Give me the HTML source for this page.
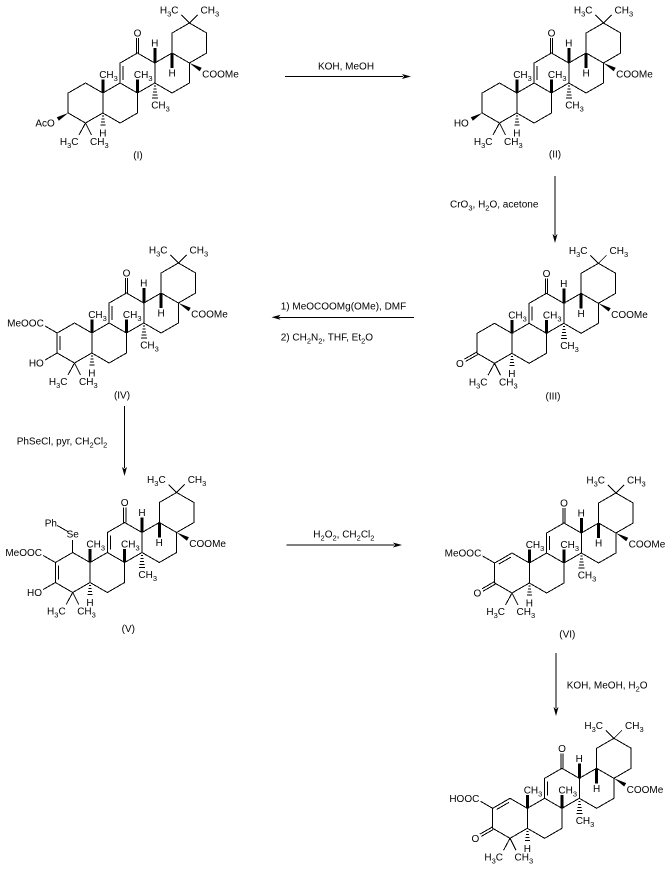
<!DOCTYPE html>
<html><head><meta charset="utf-8"><style>
html,body{margin:0;padding:0;background:#fff;}
svg{display:block;}
text{font-family:"Liberation Sans",Arial,sans-serif;font-size:10px;fill:#000;}
.s{fill:none;stroke:#000;stroke-width:1;shape-rendering:crispEdges;}
.b{fill:none;stroke:#000;stroke-width:3;shape-rendering:crispEdges;}
</style></head><body>
<svg width="672" height="870" viewBox="0 0 672 870" xmlns="http://www.w3.org/2000/svg">
<rect width="672" height="870" fill="#fff"/>

<!-- ===== Structure I ===== -->
<g transform="translate(85.5,103)">
<path class="s" d="M0,-20L-17.32,-10L-17.32,10L0,20L17.32,10L17.32,-10Z M17.32,-10L34.64,-20L51.96,-10L51.96,10L34.64,20L17.32,10 M34.64,-20L34.64,-40L51.96,-50L69.28,-40L69.28,-20L51.96,-10 M69.28,-40L86.6,-50L103.92,-40L103.92,-20L86.6,-10L69.28,-20 M86.6,-50L86.6,-70L103.92,-80L121.24,-70L121.24,-50L103.92,-40 M37.64,-37L37.64,-23 M50.76,-50L50.76,-65 M53.16,-50L53.16,-65 M0,20L-6.5,32 M0,20L6,32 M103.92,-80L96,-88 M103.92,-80L112,-88 M16.32,13L18.32,13 M15.82,16L18.82,16 M15.32,19L19.32,19 M14.82,22L19.82,22 M68.28,-17L70.28,-17 M67.78,-14L70.78,-14 M67.28,-11L71.28,-11 M66.78,-8L71.78,-8 M66.28,-5L72.28,-5"/>
<path class="b" d="M17.32,-10L17.32,-23.5 M51.96,-10L51.96,-23.5 M69.28,-40L69.28,-55 M86.6,-50L86.6,-35"/>
<polygon points="103.92,-40 114.2,-31.8 116.2,-35.2"/>
<polygon points="-17.32,10 -26.7,17.7 -28.7,14.3"/>
<text x="51.96" y="-66.4" text-anchor="middle">O</text>
<text x="69.28" y="-56.4" text-anchor="middle">H</text>
<text x="86.6" y="-26.4" text-anchor="middle">H</text>
<text x="17.32" y="33.6" text-anchor="middle">H</text>
<text x="13.7" y="-25">CH<tspan font-size="7.5" dy="3">3</tspan></text>
<text x="48.36" y="-25">CH<tspan font-size="7.5" dy="3">3</tspan></text>
<text x="65.7" y="5.5">CH<tspan font-size="7.5" dy="3">3</tspan></text>
<text x="116.6" y="-25.4">COOMe</text>
<text x="-7" y="42" text-anchor="end">H<tspan font-size="7.5" dy="3">3</tspan><tspan dy="-3">C</tspan></text>
<text x="4.5" y="42">CH<tspan font-size="7.5" dy="3">3</tspan></text>
<text x="93" y="-89.4" text-anchor="end">H<tspan font-size="7.5" dy="3">3</tspan><tspan dy="-3">C</tspan></text>
<text x="115" y="-89.4">CH<tspan font-size="7.5" dy="3">3</tspan></text>
<text x="-30.7" y="23.6" text-anchor="end">AcO</text>
</g>
<text x="138" y="158.6" text-anchor="middle">(I)</text>

<!-- ===== Structure II ===== -->
<g transform="translate(499.5,103)">
<path class="s" d="M0,-20L-17.32,-10L-17.32,10L0,20L17.32,10L17.32,-10Z M17.32,-10L34.64,-20L51.96,-10L51.96,10L34.64,20L17.32,10 M34.64,-20L34.64,-40L51.96,-50L69.28,-40L69.28,-20L51.96,-10 M69.28,-40L86.6,-50L103.92,-40L103.92,-20L86.6,-10L69.28,-20 M86.6,-50L86.6,-70L103.92,-80L121.24,-70L121.24,-50L103.92,-40 M37.64,-37L37.64,-23 M50.76,-50L50.76,-65 M53.16,-50L53.16,-65 M0,20L-6.5,32 M0,20L6,32 M103.92,-80L96,-88 M103.92,-80L112,-88 M16.32,13L18.32,13 M15.82,16L18.82,16 M15.32,19L19.32,19 M14.82,22L19.82,22 M68.28,-17L70.28,-17 M67.78,-14L70.78,-14 M67.28,-11L71.28,-11 M66.78,-8L71.78,-8 M66.28,-5L72.28,-5"/>
<path class="b" d="M17.32,-10L17.32,-23.5 M51.96,-10L51.96,-23.5 M69.28,-40L69.28,-55 M86.6,-50L86.6,-35"/>
<polygon points="103.92,-40 114.2,-31.8 116.2,-35.2"/>
<polygon points="-17.32,10 -26.7,17.7 -28.7,14.3"/>
<text x="51.96" y="-66.4" text-anchor="middle">O</text>
<text x="69.28" y="-56.4" text-anchor="middle">H</text>
<text x="86.6" y="-26.4" text-anchor="middle">H</text>
<text x="17.32" y="33.6" text-anchor="middle">H</text>
<text x="13.7" y="-25">CH<tspan font-size="7.5" dy="3">3</tspan></text>
<text x="48.36" y="-25">CH<tspan font-size="7.5" dy="3">3</tspan></text>
<text x="65.7" y="5.5">CH<tspan font-size="7.5" dy="3">3</tspan></text>
<text x="116.6" y="-25.4">COOMe</text>
<text x="-7" y="42" text-anchor="end">H<tspan font-size="7.5" dy="3">3</tspan><tspan dy="-3">C</tspan></text>
<text x="4.5" y="42">CH<tspan font-size="7.5" dy="3">3</tspan></text>
<text x="93" y="-89.4" text-anchor="end">H<tspan font-size="7.5" dy="3">3</tspan><tspan dy="-3">C</tspan></text>
<text x="115" y="-89.4">CH<tspan font-size="7.5" dy="3">3</tspan></text>
<text x="-30.7" y="23.6" text-anchor="end">HO</text>
</g>
<text x="555" y="157.6" text-anchor="middle">(II)</text>

<!-- ===== Structure III ===== -->
<g transform="translate(494.5,343.3)">
<path class="s" d="M0,-20L-17.32,-10L-17.32,10L0,20L17.32,10L17.32,-10Z M17.32,-10L34.64,-20L51.96,-10L51.96,10L34.64,20L17.32,10 M34.64,-20L34.64,-40L51.96,-50L69.28,-40L69.28,-20L51.96,-10 M69.28,-40L86.6,-50L103.92,-40L103.92,-20L86.6,-10L69.28,-20 M86.6,-50L86.6,-70L103.92,-80L121.24,-70L121.24,-50L103.92,-40 M37.64,-37L37.64,-23 M50.76,-50L50.76,-65 M53.16,-50L53.16,-65 M0,20L-6.5,32 M0,20L6,32 M103.92,-80L96,-88 M103.92,-80L112,-88 M16.32,13L18.32,13 M15.82,16L18.82,16 M15.32,19L19.32,19 M14.82,22L19.82,22 M68.28,-17L70.28,-17 M67.78,-14L70.78,-14 M67.28,-11L71.28,-11 M66.78,-8L71.78,-8 M66.28,-5L72.28,-5 M-16.67,11.13L-28.85,18.13 M-17.97,8.87L-30.15,15.87"/>
<path class="b" d="M17.32,-10L17.32,-23.5 M51.96,-10L51.96,-23.5 M69.28,-40L69.28,-55 M86.6,-50L86.6,-35"/>
<polygon points="103.92,-40 114.2,-31.8 116.2,-35.2"/>
<text x="51.96" y="-66.4" text-anchor="middle">O</text>
<text x="69.28" y="-56.4" text-anchor="middle">H</text>
<text x="86.6" y="-26.4" text-anchor="middle">H</text>
<text x="17.32" y="33.6" text-anchor="middle">H</text>
<text x="13.7" y="-25">CH<tspan font-size="7.5" dy="3">3</tspan></text>
<text x="48.36" y="-25">CH<tspan font-size="7.5" dy="3">3</tspan></text>
<text x="65.7" y="5.5">CH<tspan font-size="7.5" dy="3">3</tspan></text>
<text x="116.6" y="-25.4">COOMe</text>
<text x="-7" y="42" text-anchor="end">H<tspan font-size="7.5" dy="3">3</tspan><tspan dy="-3">C</tspan></text>
<text x="4.5" y="42">CH<tspan font-size="7.5" dy="3">3</tspan></text>
<text x="93" y="-89.4" text-anchor="end">H<tspan font-size="7.5" dy="3">3</tspan><tspan dy="-3">C</tspan></text>
<text x="115" y="-89.4">CH<tspan font-size="7.5" dy="3">3</tspan></text>
<text x="-34.64" y="23.6" text-anchor="middle">O</text>
</g>
<text x="553" y="399.6" text-anchor="middle">(III)</text>

<!-- ===== Structure IV ===== -->
<g transform="translate(74.5,343)">
<path class="s" d="M0,-20L-17.32,-10L-17.32,10L0,20L17.32,10L17.32,-10Z M17.32,-10L34.64,-20L51.96,-10L51.96,10L34.64,20L17.32,10 M34.64,-20L34.64,-40L51.96,-50L69.28,-40L69.28,-20L51.96,-10 M69.28,-40L86.6,-50L103.92,-40L103.92,-20L86.6,-10L69.28,-20 M86.6,-50L86.6,-70L103.92,-80L121.24,-70L121.24,-50L103.92,-40 M37.64,-37L37.64,-23 M50.76,-50L50.76,-65 M53.16,-50L53.16,-65 M0,20L-6.5,32 M0,20L6,32 M103.92,-80L96,-88 M103.92,-80L112,-88 M16.32,13L18.32,13 M15.82,16L18.82,16 M15.32,19L19.32,19 M14.82,22L19.82,22 M68.28,-17L70.28,-17 M67.78,-14L70.78,-14 M67.28,-11L71.28,-11 M66.78,-8L71.78,-8 M66.28,-5L72.28,-5 M-14.32,-7L-14.32,7 M-17.32,-10L-29.5,-17 M-17.32,10L-29.5,17"/>
<path class="b" d="M17.32,-10L17.32,-23.5 M51.96,-10L51.96,-23.5 M69.28,-40L69.28,-55 M86.6,-50L86.6,-35"/>
<polygon points="103.92,-40 114.2,-31.8 116.2,-35.2"/>
<text x="51.96" y="-66.4" text-anchor="middle">O</text>
<text x="69.28" y="-56.4" text-anchor="middle">H</text>
<text x="86.6" y="-26.4" text-anchor="middle">H</text>
<text x="17.32" y="33.6" text-anchor="middle">H</text>
<text x="13.7" y="-25">CH<tspan font-size="7.5" dy="3">3</tspan></text>
<text x="48.36" y="-25">CH<tspan font-size="7.5" dy="3">3</tspan></text>
<text x="65.7" y="5.5">CH<tspan font-size="7.5" dy="3">3</tspan></text>
<text x="116.6" y="-25.4">COOMe</text>
<text x="-7" y="42" text-anchor="end">H<tspan font-size="7.5" dy="3">3</tspan><tspan dy="-3">C</tspan></text>
<text x="4.5" y="42">CH<tspan font-size="7.5" dy="3">3</tspan></text>
<text x="93" y="-89.4" text-anchor="end">H<tspan font-size="7.5" dy="3">3</tspan><tspan dy="-3">C</tspan></text>
<text x="115" y="-89.4">CH<tspan font-size="7.5" dy="3">3</tspan></text>
<text x="-30.7" y="-16.4" text-anchor="end">MeOOC</text>
<text x="-30.7" y="23.6" text-anchor="end">HO</text>
</g>
<text x="122" y="398.6" text-anchor="middle">(IV)</text>

<!-- ===== Structure V ===== -->
<g transform="translate(72.7,572.5)">
<path class="s" d="M0,-20L-17.32,-10L-17.32,10L0,20L17.32,10L17.32,-10Z M17.32,-10L34.64,-20L51.96,-10L51.96,10L34.64,20L17.32,10 M34.64,-20L34.64,-40L51.96,-50L69.28,-40L69.28,-20L51.96,-10 M69.28,-40L86.6,-50L103.92,-40L103.92,-20L86.6,-10L69.28,-20 M86.6,-50L86.6,-70L103.92,-80L121.24,-70L121.24,-50L103.92,-40 M37.64,-37L37.64,-23 M50.76,-50L50.76,-65 M53.16,-50L53.16,-65 M0,20L-6.5,32 M0,20L6,32 M103.92,-80L96,-88 M103.92,-80L112,-88 M16.32,13L18.32,13 M15.82,16L18.82,16 M15.32,19L19.32,19 M14.82,22L19.82,22 M68.28,-17L70.28,-17 M67.78,-14L70.78,-14 M67.28,-11L71.28,-11 M66.78,-8L71.78,-8 M66.28,-5L72.28,-5 M-14.32,-7L-14.32,7 M-17.32,-10L-29.5,-17 M-17.32,10L-29.5,17 M0,-20L0,-32.5 M-5,-41L-15.5,-47"/>
<path class="b" d="M17.32,-10L17.32,-23.5 M51.96,-10L51.96,-23.5 M69.28,-40L69.28,-55 M86.6,-50L86.6,-35"/>
<polygon points="103.92,-40 114.2,-31.8 116.2,-35.2"/>
<text x="51.96" y="-66.4" text-anchor="middle">O</text>
<text x="69.28" y="-56.4" text-anchor="middle">H</text>
<text x="86.6" y="-26.4" text-anchor="middle">H</text>
<text x="17.32" y="33.6" text-anchor="middle">H</text>
<text x="13.7" y="-25">CH<tspan font-size="7.5" dy="3">3</tspan></text>
<text x="48.36" y="-25">CH<tspan font-size="7.5" dy="3">3</tspan></text>
<text x="65.7" y="5.5">CH<tspan font-size="7.5" dy="3">3</tspan></text>
<text x="116.6" y="-25.4">COOMe</text>
<text x="-7" y="42" text-anchor="end">H<tspan font-size="7.5" dy="3">3</tspan><tspan dy="-3">C</tspan></text>
<text x="4.5" y="42">CH<tspan font-size="7.5" dy="3">3</tspan></text>
<text x="93" y="-89.4" text-anchor="end">H<tspan font-size="7.5" dy="3">3</tspan><tspan dy="-3">C</tspan></text>
<text x="115" y="-89.4">CH<tspan font-size="7.5" dy="3">3</tspan></text>
<text x="-30.7" y="-16.4" text-anchor="end">MeOOC</text>
<text x="-30.7" y="23.6" text-anchor="end">HO</text>
<text x="0" y="-35" text-anchor="middle">Se</text>
<text x="-28" y="-46">Ph</text>
</g>
<text x="128.3" y="631.9" text-anchor="middle">(V)</text>

<!-- ===== Structure VI ===== -->
<g transform="translate(512,573)">
<path class="s" d="M0,-20L-17.32,-10L-17.32,10L0,20L17.32,10L17.32,-10Z M17.32,-10L34.64,-20L51.96,-10L51.96,10L34.64,20L17.32,10 M34.64,-20L34.64,-40L51.96,-50L69.28,-40L69.28,-20L51.96,-10 M69.28,-40L86.6,-50L103.92,-40L103.92,-20L86.6,-10L69.28,-20 M86.6,-50L86.6,-70L103.92,-80L121.24,-70L121.24,-50L103.92,-40 M37.64,-37L37.64,-23 M50.76,-50L50.76,-65 M53.16,-50L53.16,-65 M0,20L-6.5,32 M0,20L6,32 M103.92,-80L96,-88 M103.92,-80L112,-88 M16.32,13L18.32,13 M15.82,16L18.82,16 M15.32,19L19.32,19 M14.82,22L19.82,22 M68.28,-17L70.28,-17 M67.78,-14L70.78,-14 M67.28,-11L71.28,-11 M66.78,-8L71.78,-8 M66.28,-5L72.28,-5 M-1.1,-15.9L-13.22,-8.9 M-17.32,-10L-29.5,-17 M-16.67,11.13L-28.85,18.13 M-17.97,8.87L-30.15,15.87"/>
<path class="b" d="M17.32,-10L17.32,-23.5 M51.96,-10L51.96,-23.5 M69.28,-40L69.28,-55 M86.6,-50L86.6,-35"/>
<polygon points="103.92,-40 114.2,-31.8 116.2,-35.2"/>
<text x="51.96" y="-66.4" text-anchor="middle">O</text>
<text x="69.28" y="-56.4" text-anchor="middle">H</text>
<text x="86.6" y="-26.4" text-anchor="middle">H</text>
<text x="17.32" y="33.6" text-anchor="middle">H</text>
<text x="13.7" y="-25">CH<tspan font-size="7.5" dy="3">3</tspan></text>
<text x="48.36" y="-25">CH<tspan font-size="7.5" dy="3">3</tspan></text>
<text x="65.7" y="5.5">CH<tspan font-size="7.5" dy="3">3</tspan></text>
<text x="116.6" y="-25.4">COOMe</text>
<text x="-7" y="42" text-anchor="end">H<tspan font-size="7.5" dy="3">3</tspan><tspan dy="-3">C</tspan></text>
<text x="4.5" y="42">CH<tspan font-size="7.5" dy="3">3</tspan></text>
<text x="93" y="-89.4" text-anchor="end">H<tspan font-size="7.5" dy="3">3</tspan><tspan dy="-3">C</tspan></text>
<text x="115" y="-89.4">CH<tspan font-size="7.5" dy="3">3</tspan></text>
<text x="-30.7" y="-16.4" text-anchor="end">MeOOC</text>
<text x="-34.64" y="23.6" text-anchor="middle">O</text>
</g>
<text x="567.3" y="637.6" text-anchor="middle">(VI)</text>

<!-- ===== Structure VII ===== -->
<g transform="translate(510,818.3)">
<path class="s" d="M0,-20L-17.32,-10L-17.32,10L0,20L17.32,10L17.32,-10Z M17.32,-10L34.64,-20L51.96,-10L51.96,10L34.64,20L17.32,10 M34.64,-20L34.64,-40L51.96,-50L69.28,-40L69.28,-20L51.96,-10 M69.28,-40L86.6,-50L103.92,-40L103.92,-20L86.6,-10L69.28,-20 M86.6,-50L86.6,-70L103.92,-80L121.24,-70L121.24,-50L103.92,-40 M37.64,-37L37.64,-23 M50.76,-50L50.76,-65 M53.16,-50L53.16,-65 M0,20L-6.5,32 M0,20L6,32 M103.92,-80L96,-88 M103.92,-80L112,-88 M16.32,13L18.32,13 M15.82,16L18.82,16 M15.32,19L19.32,19 M14.82,22L19.82,22 M68.28,-17L70.28,-17 M67.78,-14L70.78,-14 M67.28,-11L71.28,-11 M66.78,-8L71.78,-8 M66.28,-5L72.28,-5 M-1.1,-15.9L-13.22,-8.9 M-17.32,-10L-29.5,-17 M-16.67,11.13L-28.85,18.13 M-17.97,8.87L-30.15,15.87"/>
<path class="b" d="M17.32,-10L17.32,-23.5 M51.96,-10L51.96,-23.5 M69.28,-40L69.28,-55 M86.6,-50L86.6,-35"/>
<polygon points="103.92,-40 114.2,-31.8 116.2,-35.2"/>
<text x="51.96" y="-66.4" text-anchor="middle">O</text>
<text x="69.28" y="-56.4" text-anchor="middle">H</text>
<text x="86.6" y="-26.4" text-anchor="middle">H</text>
<text x="17.32" y="33.6" text-anchor="middle">H</text>
<text x="13.7" y="-25">CH<tspan font-size="7.5" dy="3">3</tspan></text>
<text x="48.36" y="-25">CH<tspan font-size="7.5" dy="3">3</tspan></text>
<text x="65.7" y="5.5">CH<tspan font-size="7.5" dy="3">3</tspan></text>
<text x="116.6" y="-25.4">COOMe</text>
<text x="-7" y="42" text-anchor="end">H<tspan font-size="7.5" dy="3">3</tspan><tspan dy="-3">C</tspan></text>
<text x="4.5" y="42">CH<tspan font-size="7.5" dy="3">3</tspan></text>
<text x="93" y="-89.4" text-anchor="end">H<tspan font-size="7.5" dy="3">3</tspan><tspan dy="-3">C</tspan></text>
<text x="115" y="-89.4">CH<tspan font-size="7.5" dy="3">3</tspan></text>
<text x="-30.7" y="-16.4" text-anchor="end">HOOC</text>
<text x="-34.64" y="23.6" text-anchor="middle">O</text>
</g>

<!-- ===== Arrows ===== -->
<path class="s" d="M285,76.5L403,76.5"/>
<polygon points="411,76.5 402,74 404,76.5 402,79"/>
<text x="346" y="69.6" text-anchor="middle">KOH, MeOH</text>

<path class="s" d="M555,176L555,235"/>
<polygon points="555,243 552.5,234 555,236 557.5,234"/>
<text x="450" y="207.6">CrO<tspan font-size="7.5" dy="3">3</tspan><tspan dy="-3">, H</tspan><tspan font-size="7.5" dy="3">2</tspan><tspan dy="-3">O, acetone</tspan></text>

<path class="s" d="M279,317.3L414,317.3"/>
<polygon points="271.5,317.3 280.5,314.8 278.5,317.3 280.5,319.8"/>
<text x="280.7" y="309.3">1) MeOCOOMg(OMe), DMF</text>
<text x="280.7" y="340.3">2) CH<tspan font-size="7.5" dy="3">2</tspan><tspan dy="-3">N</tspan><tspan font-size="7.5" dy="3">2</tspan><tspan dy="-3">, THF, Et</tspan><tspan font-size="7.5" dy="3">2</tspan><tspan dy="-3">O</tspan></text>

<path class="s" d="M124.5,406L124.5,468"/>
<polygon points="124.5,476 122,467 124.5,469 127,467"/>
<text x="16.7" y="444.3">PhSeCl, pyr, CH<tspan font-size="7.5" dy="3">2</tspan><tspan dy="-3">Cl</tspan><tspan font-size="7.5" dy="3">2</tspan></text>

<path class="s" d="M286.7,545L394,545"/>
<polygon points="402,545 393,542.5 395,545 393,547.5"/>
<text x="313.3" y="537.6">H<tspan font-size="7.5" dy="3">2</tspan><tspan dy="-3">O</tspan><tspan font-size="7.5" dy="3">2</tspan><tspan dy="-3">, CH</tspan><tspan font-size="7.5" dy="3">2</tspan><tspan dy="-3">Cl</tspan><tspan font-size="7.5" dy="3">2</tspan></text>

<path class="s" d="M556,653L556,708"/>
<polygon points="556,716 553.5,707 556,709 558.5,707"/>
<text x="566.7" y="688.6">KOH, MeOH, H<tspan font-size="7.5" dy="3">2</tspan><tspan dy="-3">O</tspan></text>

</svg>
</body></html>
